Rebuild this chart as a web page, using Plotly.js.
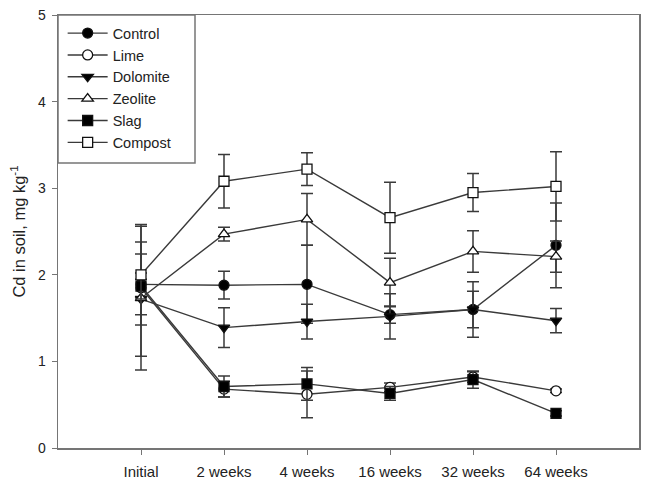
<!DOCTYPE html>
<html>
<head>
<meta charset="utf-8">
<script src="https://cdn.plot.ly/plotly-3.0.1.min.js"></script>
<style>
  html, body { margin: 0; padding: 0; background: #fff; }
  #chart { width: 645px; height: 479px; }
</style>
</head>
<body>
<div id="chart"></div>
<script>
// Sampling times
const categories = ['Initial', '2 weeks', '4 weeks', '16 weeks', '32 weeks', '64 weeks'];

// Cd in soil (mg/kg), mean and error per treatment
const control    = [1.89, 1.88, 1.89, 1.54, 1.60, 2.34];
const controlErr = [0.35, 0.16, 0.45, 0.10, 0.21, 0.49];
const lime       = [1.85, 0.68, 0.62, 0.70, 0.82, 0.66];
const limeErr    = [0.10, 0.09, 0.27, 0.05, 0.06, 0.02];
const dolomite    = [1.72, 1.39, 1.46, 1.52, 1.60, 1.47];
const dolomiteErr = [0.66, 0.23, 0.20, 0.26, 0.32, 0.14];
const zeolite    = [1.73, 2.47, 2.64, 1.91, 2.27, 2.21];
const zeoliteErr = [0.83, 0.08, 0.30, 0.28, 0.24, 0.18];
const slag       = [1.87, 0.71, 0.74, 0.63, 0.79, 0.40];
const slagErr    = [0.15, 0.12, 0.19, 0.08, 0.10, 0.03];
const compost    = [2.00, 3.08, 3.22, 2.66, 2.95, 3.02];
const compostErr = [0.58, 0.31, 0.19, 0.41, 0.22, 0.40];

const lineCol = '#3a3a3a';
const axisCol = '#757575';
const textCol = '#222';
const fontFam = 'Liberation Sans, Arial, sans-serif';

function series(name, y, err, symbol, filled) {
  return {
    type: 'scatter',
    mode: 'lines+markers',
    name: name,
    legendgroup: name,
    x: categories,
    y: y,
    line: { color: lineCol, width: 1.4 },
    marker: {
      symbol: symbol,
      size: 10,
      color: filled ? '#000' : '#fff',
      line: { color: '#111', width: 1.3 }
    },
    error_y: {
      type: 'data',
      array: err,
      visible: true,
      color: lineCol,
      thickness: 1.5,
      width: 6
    }
  };
}

const traces = [
  series('Control', control, controlErr, 'circle', true),
  series('Lime', lime, limeErr, 'circle', false),
  series('Dolomite', dolomite, dolomiteErr, 'triangle-down', true),
  series('Zeolite', zeolite, zeoliteErr, 'triangle-up', false),
  series('Slag', slag, slagErr, 'square', true),
  series('Compost', compost, compostErr, 'square', false)
];

const layout = {
  width: 645,
  height: 479,
  margin: { l: 58, r: 6, t: 15, b: 31 },
  paper_bgcolor: '#fff',
  plot_bgcolor: '#fff',
  font: { family: fontFam, color: textCol, size: 14 },
  showlegend: true,
  legend: {
    x: 0.008, y: 0.995, xanchor: 'left', yanchor: 'top',
    bgcolor: 'rgba(0,0,0,0)',
    borderwidth: 0,
    font: { family: fontFam, size: 14.5, color: textCol },
    tracegroupgap: 0,
    itemwidth: 40
  },
  // frame around the legend, anchored at the top-left corner of the plot
  shapes: [{
    type: 'rect', xref: 'paper', yref: 'paper',
    x0: 0, x1: 137 / 581, y0: 1, y1: 1 - 148 / 433,
    line: { color: axisCol, width: 1.5 },
    fillcolor: '#fff',
    layer: 'below'
  }],
  xaxis: {
    type: 'category',
    range: [-1, 6],
    showgrid: false,
    zeroline: false,
    showline: true,
    linecolor: axisCol,
    linewidth: 1.5,
    mirror: true,
    ticks: 'outside',
    ticklen: 5,
    tickcolor: axisCol,
    ticklabelstandoff: 4,
    tickfont: { family: fontFam, size: 15, color: textCol }
  },
  yaxis: {
    range: [0, 5],
    dtick: 1,
    showgrid: false,
    zeroline: false,
    showline: true,
    linecolor: axisCol,
    linewidth: 1.5,
    mirror: true,
    ticks: 'outside',
    ticklen: 5,
    tickcolor: axisCol,
    ticklabelstandoff: 3,
    tickfont: { family: fontFam, size: 14, color: textCol },
    title: { text: 'Cd in soil, mg kg<sup>-1</sup>', font: { family: fontFam, size: 16.5, color: textCol }, standoff: 8 }
  }
};

Plotly.newPlot('chart', traces, layout, { displayModeBar: false, staticPlot: true });
</script>
</body>
</html>
